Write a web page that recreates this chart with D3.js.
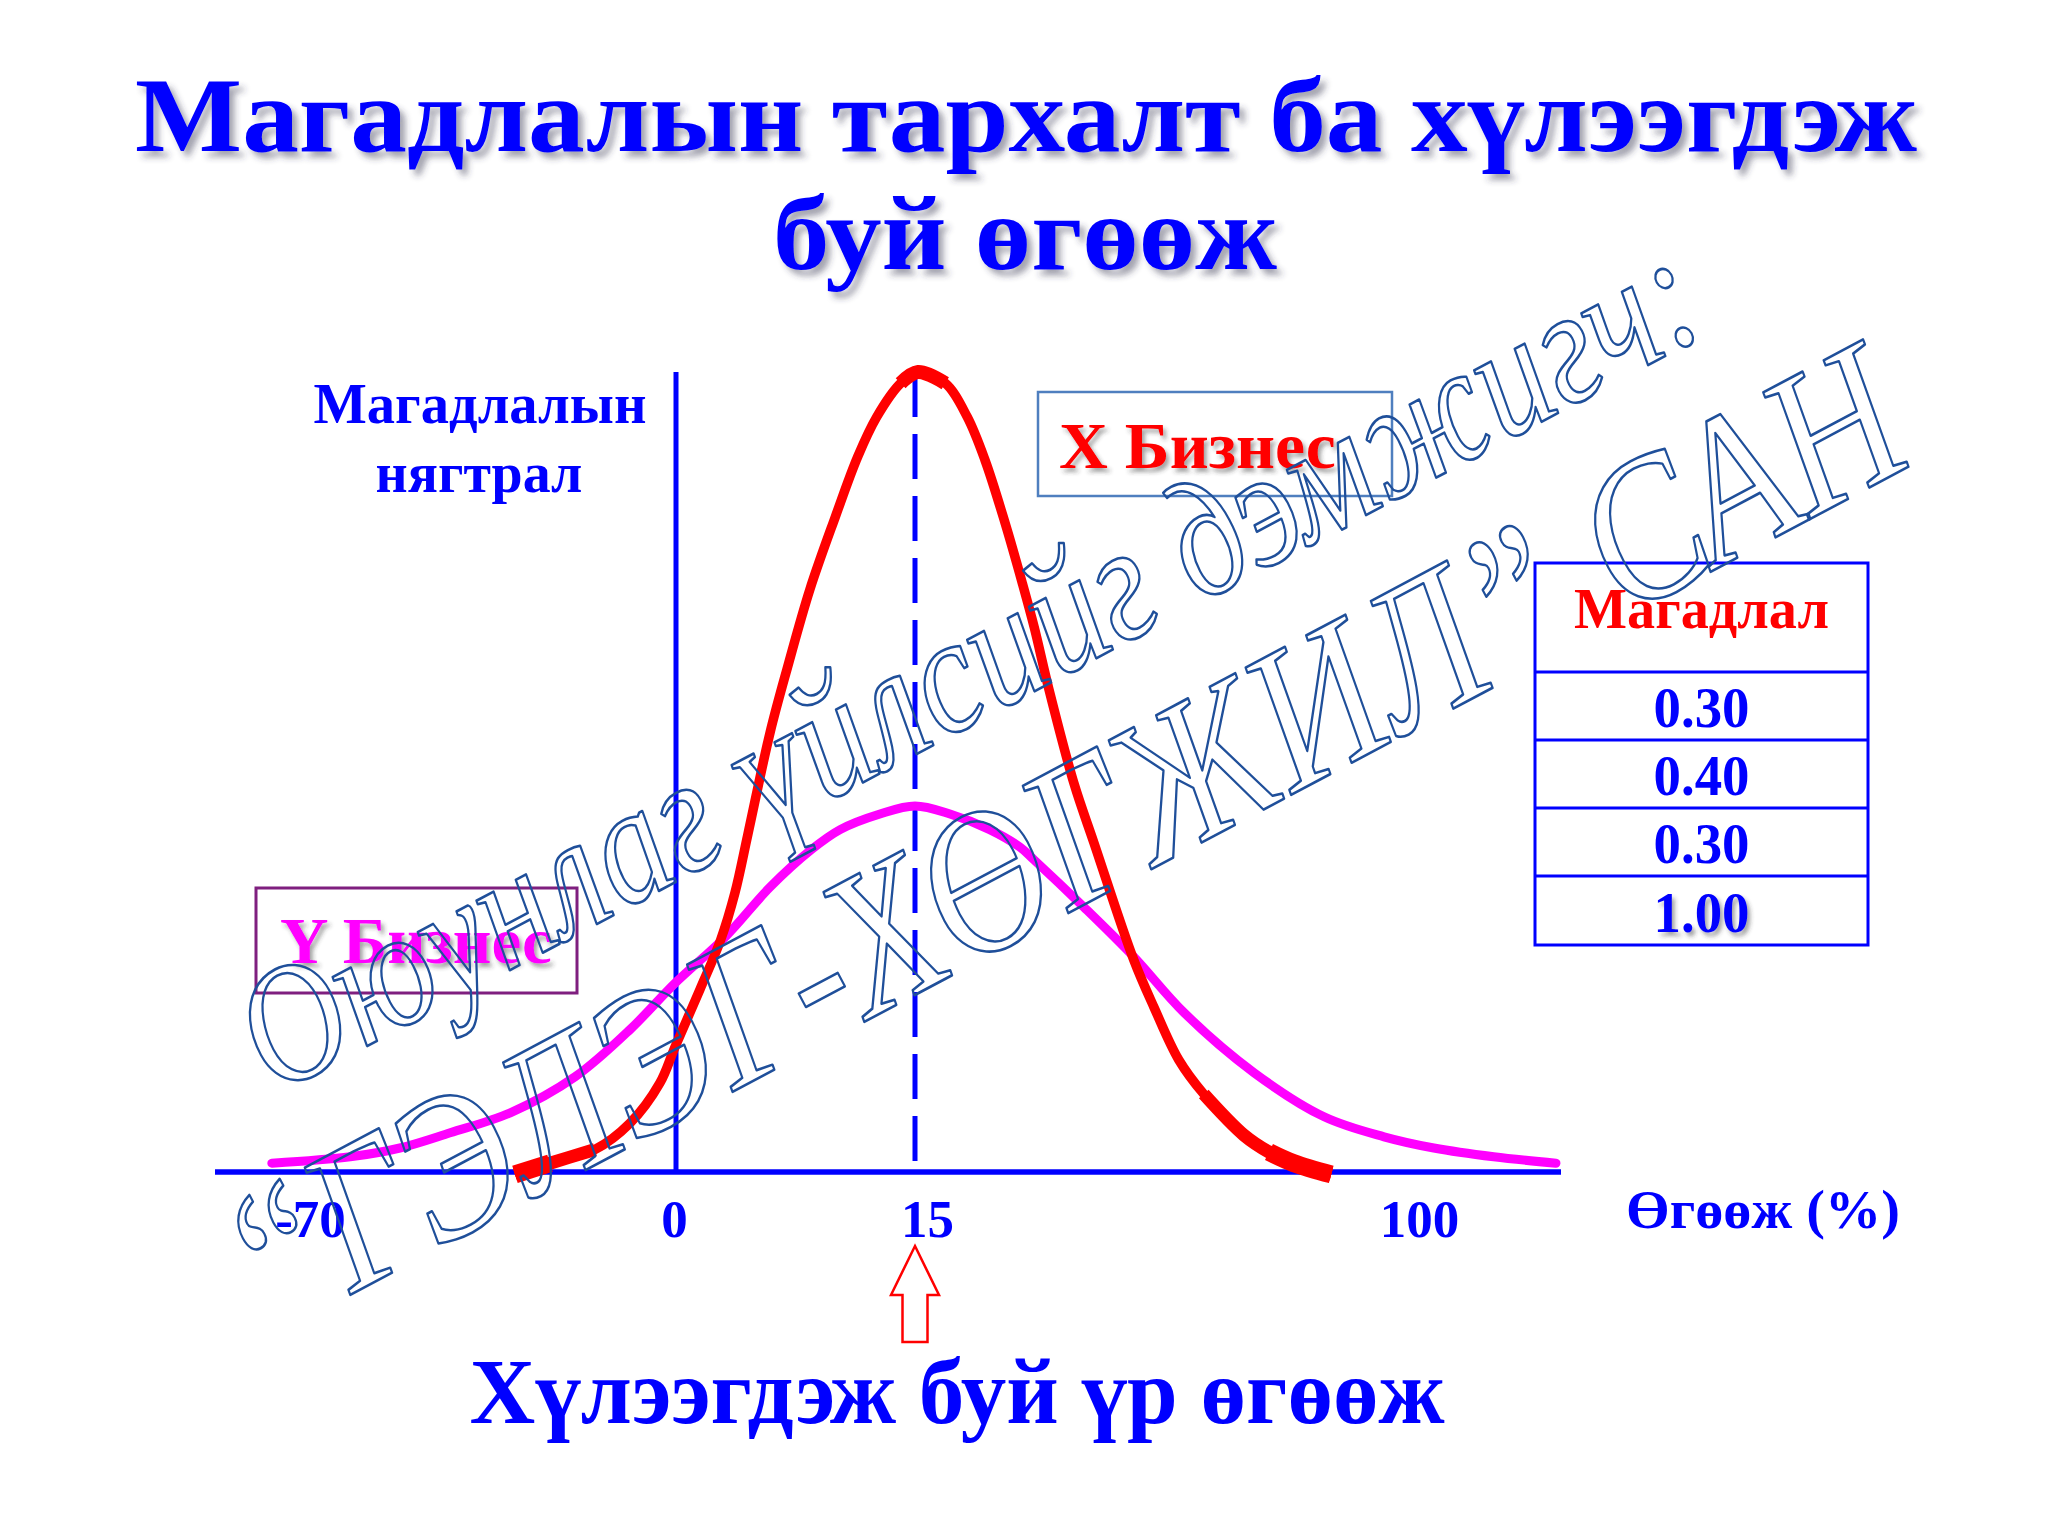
<!DOCTYPE html>
<html>
<head>
<meta charset="utf-8">
<script src="https://cdn.jsdelivr.net/npm/d3@7"></script>
<style>
  html, body { margin: 0; padding: 0; background: #ffffff; }
  svg { display: block; }
</style>
</head>
<body>
<svg id="chart" width="2048" height="1536"></svg>
<script>
// ---------------- DATA ----------------
const titleLines = ["Магадлалын тархалт ба хүлээгдэж", "буй өгөөж"];
const yAxisLabelLines = ["Магадлалын", "нягтрал"];
const xAxisLabel = "Өгөөж (%)";
const xTickValues = [-70, 0, 15, 100];
const xTickLabels = ["-70", "0", "15", "100"];
const expectedReturn = 15;
const expectedReturnLabel = "Хүлээгдэж буй үр өгөөж";
const seriesNames = ["X Бизнес", "Y Бизнес"];

// X Бизнес (red) density curve (return %, relative density)
const xBizReturn = [-30.8, -24.1, -15.5, -8.8, -3.1, -0.2, 1.5, 2.8, 3.7, 4.5, 5.9, 7.0, 8.4, 10.0, 11.4, 12.6, 14.1, 15.5,
                    20.1, 23.8, 26.8, 30.2, 33.1, 35.1, 37.6, 41.8, 45.2, 51.9, 55.3, 59.5, 63.7, 70.5, 74.7, 78.9, 85.2];
const xBizDensity = [-0.003, 0.011, 0.028, 0.061, 0.111, 0.156, 0.228, 0.29, 0.349, 0.421, 0.549, 0.631, 0.728, 0.819, 0.894, 0.944, 0.986, 1.0,
                     0.986, 0.944, 0.89, 0.811, 0.736, 0.681, 0.603, 0.486, 0.411, 0.265, 0.206, 0.14, 0.0975, 0.046, 0.025, 0.011, -0.003];

// Y Бизнес (magenta) density curve
const yBizReturn = [-77.3, -62.3, -52.8, -43.2, -31.7, -19.3, -8.8, -0.2, 3.1, 5.9, 8.5, 10.3, 12.8, 15,
                    20.9, 27.6, 32.7, 35.1, 43.5, 51.9, 60.4, 72.2, 84.0, 94.1, 102.5, 112.6, 123.1];
const yBizDensity = [0.011, 0.019, 0.03, 0.049, 0.074, 0.119, 0.178, 0.236, 0.294, 0.356, 0.403, 0.428, 0.4475, 0.4575,
                     0.4475, 0.428, 0.406, 0.39, 0.331, 0.269, 0.199, 0.124, 0.069, 0.044, 0.03, 0.019, 0.011];

const tableHeader = "Магадлал";
const tableValues = ["0.30", "0.40", "0.30", "1.00"];
const watermarkLines = ["Оюунлаг үйлсийг дэмжигч:", "“ГЭЛЭГ-ХӨГЖИЛ” САН"];

// ---------------- SETUP ----------------
const BLUE = "#0000ff";
const SERIF = "'Liberation Serif','Times New Roman',Times,serif";
const svg = d3.select("#chart");
svg.append("rect").attr("width", 2048).attr("height", 1536).attr("fill", "#ffffff");

const defs = svg.append("defs");
const f1 = defs.append("filter").attr("id", "shadowBig")
  .attr("x", "-5%").attr("y", "-20%").attr("width", "115%").attr("height", "150%");
f1.append("feDropShadow").attr("dx", 5).attr("dy", 6).attr("stdDeviation", 3)
  .attr("flood-color", "#303050").attr("flood-opacity", 0.45);
const f2 = defs.append("filter").attr("id", "shadowSmall")
  .attr("x", "-10%").attr("y", "-20%").attr("width", "125%").attr("height", "160%");
f2.append("feDropShadow").attr("dx", 3).attr("dy", 4).attr("stdDeviation", 2.2)
  .attr("flood-color", "#303030").attr("flood-opacity", 0.45);

// text helper: fits natural text width to the measured width of the reference
function addText(parent, str, o) {
  const g = parent.append("g").attr("transform", `translate(${o.x},${o.y})`);
  const t = g.append("text").text(str)
    .attr("font-family", SERIF)
    .attr("font-weight", o.weight || "bold")
    .attr("font-size", o.size)
    .attr("text-anchor", o.anchor || "middle")
    .attr("fill", o.fill || BLUE);
  if (o.filter) t.attr("filter", `url(#${o.filter})`);
  if (o.width) {
    const w = t.node().getComputedTextLength();
    if (w > 0) t.attr("transform", `scale(${o.width / w},1)`);
  }
  return t;
}

// ---------------- SCALES ----------------
const x = d3.scaleLinear().domain(xTickValues).range([310, 676, 915, 1419]);
const y = d3.scaleLinear().domain([0, 1]).range([1172, 372]);

// ---------------- TITLE ----------------
addText(svg, titleLines[0], { x: 1026, y: 151, size: 106, width: 1782, filter: "shadowBig" });
addText(svg, titleLines[1], { x: 1025, y: 269, size: 106, width: 504, filter: "shadowBig" });

// ---------------- AXES ----------------
const plot = svg.append("g");
plot.append("line")
  .attr("x1", 215).attr("x2", 1561)
  .attr("y1", y(0)).attr("y2", y(0))
  .attr("stroke", BLUE).attr("stroke-width", 5.5);
plot.append("line")
  .attr("x1", x(0)).attr("x2", x(0))
  .attr("y1", y(1)).attr("y2", y(0))
  .attr("stroke", BLUE).attr("stroke-width", 5);

const labelNudge = [0, -2, 12, 0];
const xAxis = d3.axisBottom(x).tickValues(xTickValues)
  .tickFormat((d, i) => xTickLabels[i]).tickSize(0);
const axG = plot.append("g").attr("transform", `translate(0,${y(0)})`).call(xAxis);
axG.select(".domain").remove();
axG.selectAll("text")
  .attr("y", 65).attr("dy", 0)
  .attr("dx", (d, i) => labelNudge[i])
  .attr("font-family", SERIF).attr("font-weight", "bold")
  .attr("font-size", 53).attr("fill", BLUE);

plot.append("line")
  .attr("x1", x(expectedReturn)).attr("x2", x(expectedReturn))
  .attr("y1", y(1)).attr("y2", y(0))
  .attr("stroke", BLUE).attr("stroke-width", 5)
  .attr("stroke-dasharray", "45,17");

addText(svg, yAxisLabelLines[0], { x: 480, y: 423, size: 56, width: 333 });
addText(svg, yAxisLabelLines[1], { x: 479, y: 492, size: 56, width: 207 });
addText(svg, xAxisLabel, { x: 1626, y: 1228, size: 55, width: 274, anchor: "start" });

// ---------------- CURVES ----------------
const line = d3.line()
  .x(d => x(d[0])).y(d => y(d[1]))
  .curve(d3.curveCatmullRom.alpha(0.5));

const yBizPts = yBizReturn.map((r, i) => [r, yBizDensity[i]]);
const xBizPts = xBizReturn.map((r, i) => [r, xBizDensity[i]]);

plot.append("path").datum(yBizPts)
  .attr("d", line).attr("fill", "none")
  .attr("stroke", "#ff00ff").attr("stroke-width", 9)
  .attr("stroke-linecap", "round").attr("stroke-linejoin", "round");

plot.append("path").datum(xBizPts)
  .attr("d", line).attr("fill", "none")
  .attr("stroke", "#ff0000").attr("stroke-width", 9.5)
  .attr("stroke-linecap", "butt").attr("stroke-linejoin", "round");

// thicker freeform segments of the red curve (tails and peak), tapering as in the picture
const n = xBizPts.length;
const peakIdx = xBizDensity.indexOf(d3.max(xBizDensity));
[
  [xBizPts.slice(0, 3), 13], [xBizPts.slice(0, 2), 18],
  [xBizPts.slice(n - 5), 13], [xBizPts.slice(n - 3), 18],
  [xBizPts.slice(peakIdx - 1, peakIdx + 2), 14]
].forEach(([pts, w]) => {
  plot.append("path").datum(pts)
    .attr("d", line).attr("fill", "none")
    .attr("stroke", "#ff0000").attr("stroke-width", w)
    .attr("stroke-linecap", "butt").attr("stroke-linejoin", "round");
});

// ---------------- EXPECTED RETURN ARROW ----------------
const ax = x(expectedReturn);
plot.append("path")
  .attr("d", `M${ax},1246 L${ax + 24},1295 L${ax + 12.5},1295 L${ax + 12.5},1342 L${ax - 12.5},1342 L${ax - 12.5},1295 L${ax - 24},1295 Z`)
  .attr("fill", "#ffffff").attr("stroke", "#ff0000").attr("stroke-width", 2.5)
  .attr("stroke-linejoin", "miter");
addText(svg, expectedReturnLabel, { x: 957, y: 1423, size: 94, width: 975 });

// ---------------- SERIES LABEL BOXES ----------------
svg.append("rect").attr("x", 1038).attr("y", 392).attr("width", 354).attr("height", 104)
  .attr("fill", "none").attr("stroke", "#4f7fbf").attr("stroke-width", 2.5);
addText(svg, seriesNames[0], { x: 1059, y: 468, size: 66, width: 277, anchor: "start", fill: "#ff0000", filter: "shadowSmall" });

svg.append("rect").attr("x", 256).attr("y", 888).attr("width", 321).attr("height", 105)
  .attr("fill", "none").attr("stroke", "#7f1f7f").attr("stroke-width", 3);
addText(svg, seriesNames[1], { x: 280, y: 963, size: 66, width: 272, anchor: "start", fill: "#ff00ff", filter: "shadowSmall" });

// ---------------- PROBABILITY TABLE ----------------
const tblX = 1535, tblW = 333;
const rowEdges = [563, 672, 740, 808, 876, 945];
const tbl = svg.append("g");
tbl.append("rect").attr("x", tblX).attr("y", rowEdges[0])
  .attr("width", tblW).attr("height", rowEdges[rowEdges.length - 1] - rowEdges[0])
  .attr("fill", "#ffffff").attr("stroke", BLUE).attr("stroke-width", 3);
tbl.selectAll("line.row").data(rowEdges.slice(1, -1)).enter().append("line")
  .attr("x1", tblX).attr("x2", tblX + tblW)
  .attr("y1", d => d).attr("y2", d => d)
  .attr("stroke", BLUE).attr("stroke-width", 3);
addText(tbl, tableHeader, { x: tblX + tblW / 2, y: 628, size: 57, width: 255, fill: "#ff0000" });
tableValues.forEach((v, i) => {
  addText(tbl, v, {
    x: tblX + tblW / 2, y: rowEdges[i + 2] - 13, size: 56, width: 96,
    filter: i === tableValues.length - 1 ? "shadowSmall" : null
  });
});

// ---------------- WATERMARK ----------------
const wmSpecs = [
  { txt: watermarkLines[0], px: 274.4, py: 1095.4, len: 1630 },
  { txt: watermarkLines[1], px: 268.0, py: 1338.8, len: 1870 }
];
const condense = 1.2;
wmSpecs.forEach(s => {
  const g = svg.append("g").attr("transform", `translate(${s.px},${s.py}) rotate(-28)`);
  const t = g.append("text").text(s.txt)
    .attr("x", 0).attr("y", 0)
    .attr("font-family", SERIF).attr("font-style", "italic")
    .attr("font-size", 140)
    .attr("fill", "none").attr("stroke", "#1f4f9a").attr("stroke-width", 2.6)
    .attr("stroke-linejoin", "round");
  const w = t.node().getComputedTextLength();
  if (w > 0) {
    t.attr("font-size", 140 * s.len / w * condense)
     .attr("transform", `scale(${1 / condense},1)`);
  }
});
</script>
</body>
</html>
